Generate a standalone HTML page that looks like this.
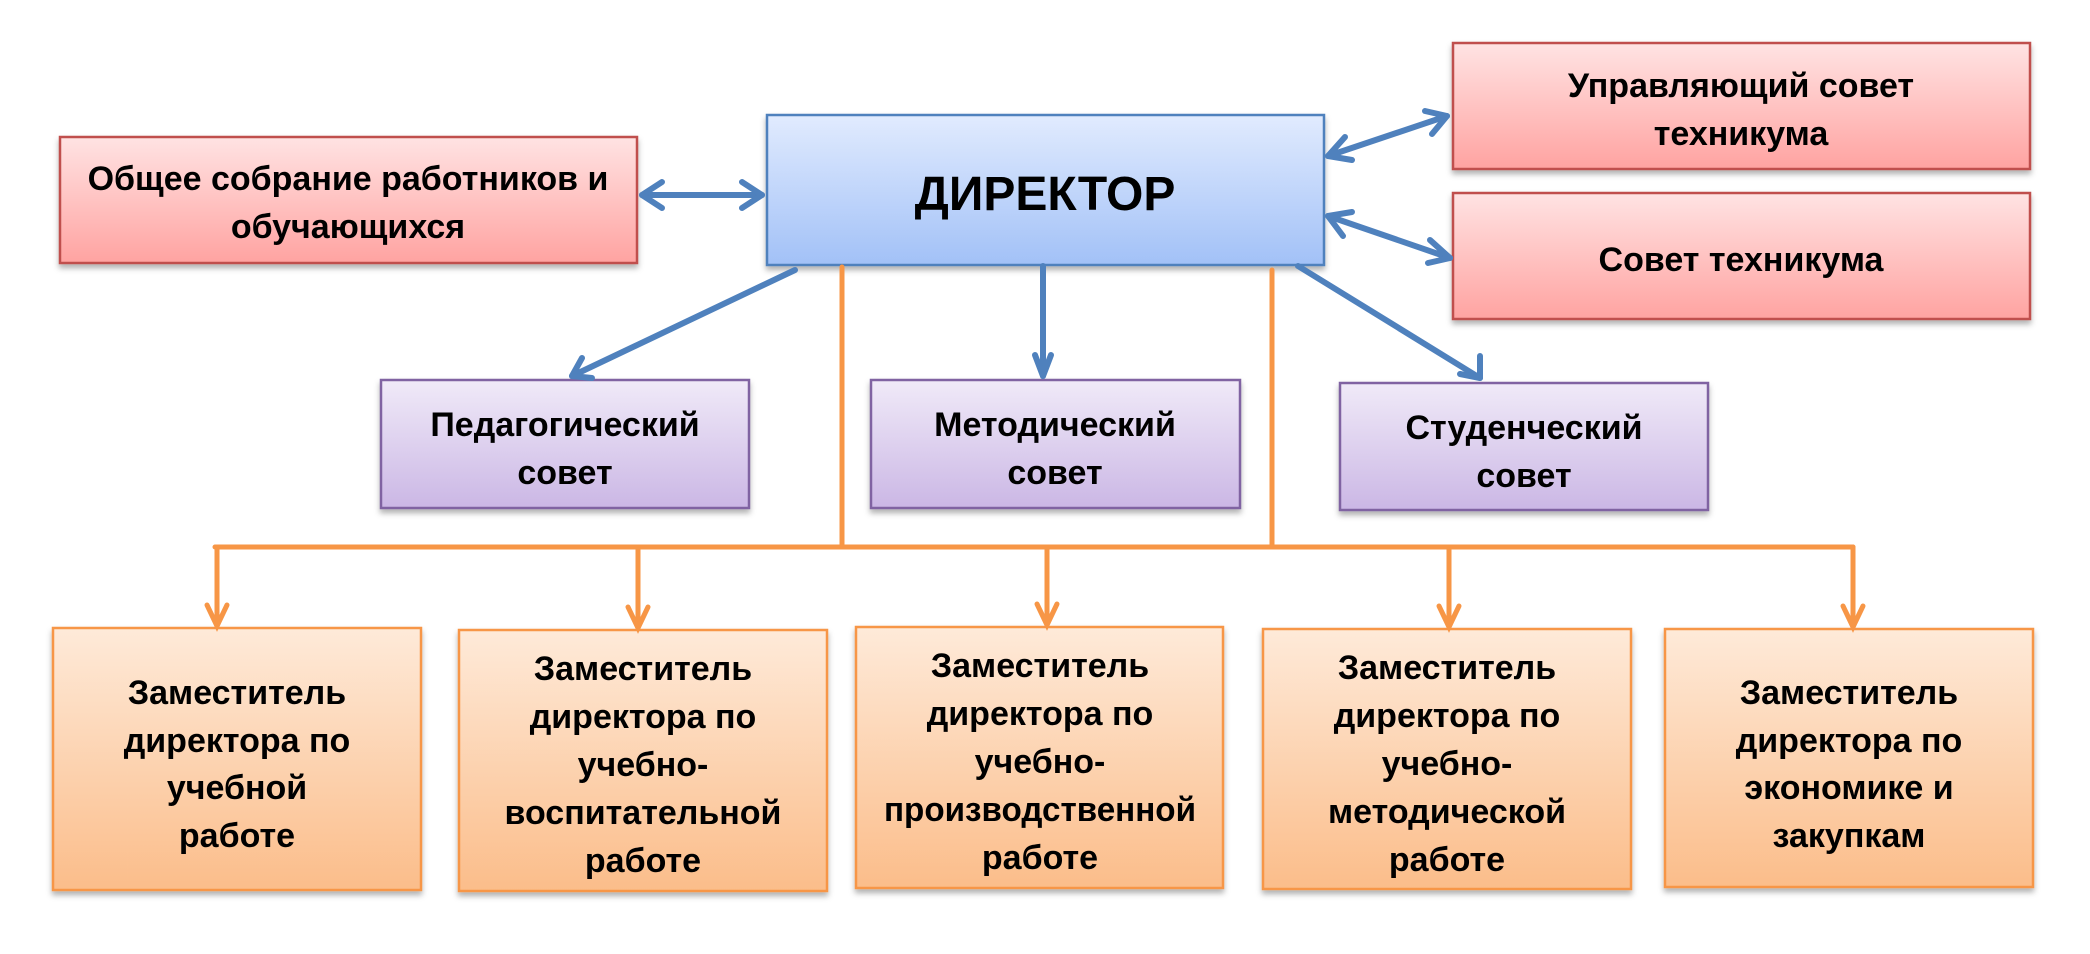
<!DOCTYPE html>
<html><head><meta charset="utf-8"><style>
body{margin:0;background:#fff}
svg text{font-family:"Liberation Sans",sans-serif;font-weight:bold;fill:#000;text-anchor:middle}
</style></head><body>
<svg width="2090" height="949" viewBox="0 0 2090 949" xmlns="http://www.w3.org/2000/svg">
<defs>
<linearGradient id="r" x1="0" y1="0" x2="0" y2="1"><stop offset="0" stop-color="#ffe3e3"/><stop offset="1" stop-color="#ffa3a1"/></linearGradient>
<linearGradient id="b" x1="0" y1="0" x2="0" y2="1"><stop offset="0" stop-color="#e1ebfe"/><stop offset="1" stop-color="#a2c1f7"/></linearGradient>
<linearGradient id="p" x1="0" y1="0" x2="0" y2="1"><stop offset="0" stop-color="#f0eaf8"/><stop offset="1" stop-color="#cbb7e5"/></linearGradient>
<linearGradient id="o" x1="0" y1="0" x2="0" y2="1"><stop offset="0" stop-color="#feead9"/><stop offset="1" stop-color="#fbbd8a"/></linearGradient>
<filter id="s" x="-5%" y="-5%" width="110%" height="120%"><feDropShadow dx="0" dy="4" stdDeviation="3" flood-color="#000" flood-opacity="0.3"/></filter>
</defs>
<g filter="url(#s)">
<rect x="60" y="137" width="577" height="126" fill="url(#r)" stroke="#c0504d" stroke-width="2.5"/>
<rect x="767" y="115" width="557" height="150" fill="url(#b)" stroke="#4f81bd" stroke-width="2.5"/>
<rect x="1453" y="43" width="577" height="126" fill="url(#r)" stroke="#c0504d" stroke-width="2.5"/>
<rect x="1453" y="193" width="577" height="126" fill="url(#r)" stroke="#c0504d" stroke-width="2.5"/>
<rect x="381" y="380" width="368" height="128" fill="url(#p)" stroke="#8064a2" stroke-width="2.5"/>
<rect x="871" y="380" width="369" height="128" fill="url(#p)" stroke="#8064a2" stroke-width="2.5"/>
<rect x="1340" y="383" width="368" height="127" fill="url(#p)" stroke="#8064a2" stroke-width="2.5"/>
<rect x="53" y="628" width="368" height="262" fill="url(#o)" stroke="#f79646" stroke-width="2.5"/>
<rect x="459" y="630" width="368" height="261" fill="url(#o)" stroke="#f79646" stroke-width="2.5"/>
<rect x="856" y="627" width="367" height="261" fill="url(#o)" stroke="#f79646" stroke-width="2.5"/>
<rect x="1263" y="629" width="368" height="260" fill="url(#o)" stroke="#f79646" stroke-width="2.5"/>
<rect x="1665" y="629" width="368" height="258" fill="url(#o)" stroke="#f79646" stroke-width="2.5"/>
</g>
<g stroke="#f79646" stroke-width="5" fill="none" stroke-linecap="round">
<line x1="842" y1="267" x2="842" y2="547"/>
<line x1="1272" y1="270" x2="1272" y2="547"/>
<line x1="215" y1="547" x2="1853" y2="547"/>
<line x1="217" y1="547" x2="217" y2="625"/>
<line x1="638" y1="547" x2="638" y2="627"/>
<line x1="1047" y1="547" x2="1047" y2="624"/>
<line x1="1449" y1="547" x2="1449" y2="626"/>
<line x1="1853" y1="547" x2="1853" y2="626"/>
<polyline points="207,605 217,626 227,605"/>
<polyline points="628,607 638,628 648,607"/>
<polyline points="1037,604 1047,625 1057,604"/>
<polyline points="1439,606 1449,627 1459,606"/>
<polyline points="1843,606 1853,627 1863,606"/>
</g>
<g stroke="#4f81bd" stroke-width="6" fill="none" stroke-linecap="round" stroke-linejoin="round">
<line x1="642" y1="195" x2="762" y2="195"/>
<polyline points="662,182 642,195 662,208"/>
<polyline points="742,182 762,195 742,208"/>
<line x1="1328" y1="156" x2="1447" y2="116"/>
<polyline points="1345,137 1328,156 1352,160"/>
<polyline points="1425,111 1447,116 1432,134"/>
<line x1="1328" y1="216" x2="1450" y2="258"/>
<polyline points="1352,212 1328,216 1343,236"/>
<polyline points="1430,240 1450,258 1428,263"/>
<line x1="795" y1="270" x2="572" y2="376"/>
<polyline points="582,358 572,376 592,378"/>
<line x1="1043" y1="266" x2="1043" y2="376"/>
<polyline points="1035,355 1043,376 1051,355"/>
<line x1="1298" y1="266" x2="1480" y2="378"/>
<polyline points="1480,356 1480,378 1460,374"/>
</g>
<g font-size="34">
<text x="348" y="190">Общее собрание работников и</text>
<text x="348" y="238">обучающихся</text>
<text x="1045" y="210" font-size="48">ДИРЕКТОР</text>
<text x="1741" y="97">Управляющий совет</text>
<text x="1741" y="145">техникума</text>
<text x="1741" y="271">Совет техникума</text>
<text x="565" y="436">Педагогический</text>
<text x="565" y="484">совет</text>
<text x="1055" y="436">Методический</text>
<text x="1055" y="484">совет</text>
<text x="1524" y="439">Студенческий</text>
<text x="1524" y="487">совет</text>
<text x="237" y="704">Заместитель</text>
<text x="237" y="752">директора по</text>
<text x="237" y="799">учебной</text>
<text x="237" y="847">работе</text>
<text x="643" y="680">Заместитель</text>
<text x="643" y="728">директора по</text>
<text x="643" y="776">учебно-</text>
<text x="643" y="824">воспитательной</text>
<text x="643" y="872">работе</text>
<text x="1040" y="677">Заместитель</text>
<text x="1040" y="725">директора по</text>
<text x="1040" y="773">учебно-</text>
<text x="1040" y="821" textLength="312" lengthAdjust="spacingAndGlyphs">производственной</text>
<text x="1040" y="869">работе</text>
<text x="1447" y="679">Заместитель</text>
<text x="1447" y="727">директора по</text>
<text x="1447" y="775">учебно-</text>
<text x="1447" y="823">методической</text>
<text x="1447" y="871">работе</text>
<text x="1849" y="704">Заместитель</text>
<text x="1849" y="752">директора по</text>
<text x="1849" y="799">экономике и</text>
<text x="1849" y="847">закупкам</text>
</g>
</svg>
</body></html>
